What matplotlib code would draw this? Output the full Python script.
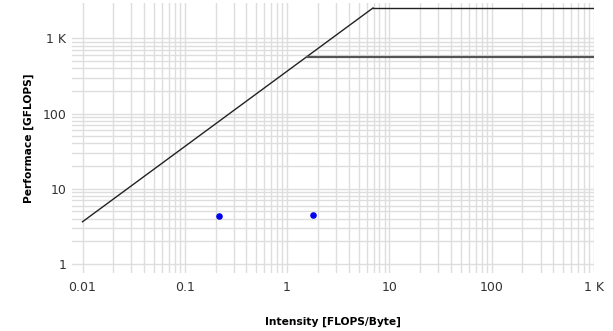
import numpy as np
import matplotlib
matplotlib.use("Agg")
import matplotlib.pyplot as plt
from matplotlib.ticker import FixedLocator, FuncFormatter, NullFormatter

# roofline parameters
bandwidth = 365.0          # GB/s
peak_flops = [2525.0, 570.0]   # GFLOPS roofs
x_start = 0.01
x_end = 1000.0

# measured kernels
point_x = [0.217, 1.79]
point_y = [4.34, 4.47]

x_ticks = [0.01, 0.1, 1, 10, 100, 1000]
y_ticks = [1, 10, 100, 1000]


def fmt(v, pos):
    if v >= 1000:
        return "%g K" % (v / 1000)
    return "%g" % v


def minors(ticks):
    out = []
    for t in ticks[:-1]:
        out += [t * k for k in range(2, 10)]
    return out


fig = plt.figure(figsize=(6.13, 3.31), dpi=100)
ax = fig.add_axes([0.1175, 0.175, 0.8515, 0.816])
ax.set_xscale("log")
ax.set_yscale("log")

# roofs
top = peak_flops[0]
ridge = top / bandwidth
ax.plot([x_start, ridge], [bandwidth * x_start, top], color="#222222", lw=1.0)
ax.plot([ridge, x_end], [top, top], color="#222222", lw=1.0)
low = peak_flops[1]
ax.plot([low / bandwidth, x_end], [low, low], color="#555555", lw=1.6)

ax.scatter(point_x, point_y, s=14, color="#0000ee", zorder=5)

ax.set_xlim(0.0079, 1000)
ax.set_ylim(0.76, 2940)

ax.xaxis.set_major_locator(FixedLocator(x_ticks))
ax.yaxis.set_major_locator(FixedLocator(y_ticks))
ax.xaxis.set_minor_locator(FixedLocator(minors(x_ticks)))
ax.yaxis.set_minor_locator(FixedLocator(minors(y_ticks)))
ax.xaxis.set_major_formatter(FuncFormatter(fmt))
ax.yaxis.set_major_formatter(FuncFormatter(fmt))
ax.xaxis.set_minor_formatter(NullFormatter())
ax.yaxis.set_minor_formatter(NullFormatter())

ax.grid(True, which="both", color="#dedede", lw=1.0)
ax.set_axisbelow(True)
for s in ax.spines.values():
    s.set_visible(False)
ax.tick_params(which="both", length=0, labelsize=9, colors="#333333")
ax.tick_params(axis="x", pad=6)
ax.tick_params(axis="y", pad=4)

ax.set_xlabel("Intensity [FLOPS/Byte]", fontsize=7.7, fontweight="bold", labelpad=16)
ax.set_ylabel("Performace [GFLOPS]", fontsize=7.7, fontweight="bold", labelpad=6)

fig.savefig("out.png", dpi=100)
